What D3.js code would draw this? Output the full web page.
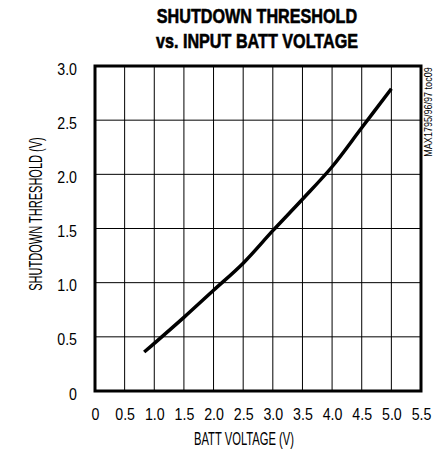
<!DOCTYPE html>
<html>
<head>
<meta charset="utf-8">
<script src="https://cdn.jsdelivr.net/npm/d3@7"></script>
<style>
  html, body { margin: 0; padding: 0; background: #fff; }
  svg { display: block; }
  text { font-family: "Liberation Sans", Arial, sans-serif; fill: #000; }
</style>
</head>
<body>
<svg id="chart" width="444" height="452"></svg>
<script>
const titleLines = ["SHUTDOWN THRESHOLD", "vs. INPUT BATT VOLTAGE"];
const xLabel = "BATT VOLTAGE (V)";
const yLabel = "SHUTDOWN THRESHOLD (V)";
const sideNote = "MAX1795/96/97 toc09";
const xTicks = [0, 0.5, 1.0, 1.5, 2.0, 2.5, 3.0, 3.5, 4.0, 4.5, 5.0, 5.5];
const xTickLabels = ["0", "0.5", "1.0", "1.5", "2.0", "2.5", "3.0", "3.5", "4.0", "4.5", "5.0", "5.5"];
const yTicks = [0, 0.5, 1.0, 1.5, 2.0, 2.5, 3.0];
const yTickLabels = ["0", "0.5", "1.0", "1.5", "2.0", "2.5", "3.0"];
const battVoltage = [0.83, 1.0, 1.5, 2.0, 2.5, 3.0, 3.5, 4.0, 4.5, 5.0];
const threshold   = [0.36, 0.44, 0.68, 0.93, 1.18, 1.48, 1.77, 2.07, 2.43, 2.79];

const svg = d3.select("#chart");
const m = { left: 95, top: 66, right: 421, bottom: 391 };
const x = d3.scaleLinear().domain([0, 5.5]).range([m.left, m.right]);
const y = d3.scaleLinear().domain([0, 3.0]).range([m.bottom, m.top]);

// condense text horizontally (reference uses a condensed face)
function condense(sel, ratio) {
  sel.each(function () {
    const w = this.getComputedTextLength();
    d3.select(this).attr("textLength", w * ratio).attr("lengthAdjust", "spacingAndGlyphs");
  });
}

// Title
svg.append("g").selectAll("text").data(titleLines).join("text")
  .attr("x", 257).attr("y", (d, i) => 23 + i * 25)
  .attr("text-anchor", "middle")
  .attr("font-weight", "bold")
  .attr("font-size", 21)
  .attr("stroke", "#000").attr("stroke-width", 0.6)
  .text(d => d)
  .call(condense, 0.77);

// Grid
const grid = svg.append("g").attr("stroke", "#000").attr("stroke-width", 1);
grid.selectAll("line.v").data(xTicks.slice(1, -1)).join("line")
  .attr("x1", d => x(d)).attr("x2", d => x(d))
  .attr("y1", m.top).attr("y2", m.bottom);
grid.selectAll("line.h").data(yTicks.slice(1, -1)).join("line")
  .attr("x1", m.left).attr("x2", m.right)
  .attr("y1", d => y(d)).attr("y2", d => y(d));

// Axes (labels only)
const xAxis = d3.axisBottom(x).tickValues(xTicks).tickFormat((d, i) => xTickLabels[i]).tickSize(0).tickPadding(0);
const gx = svg.append("g").attr("transform", `translate(0,${m.bottom})`).call(xAxis);
gx.select(".domain").remove();
gx.selectAll("text").attr("font-size", 16.5).attr("font-family", null).attr("dy", null).attr("y", 29)
  .call(condense, 0.86);

const yAxis = d3.axisLeft(y).tickValues(yTicks).tickFormat((d, i) => yTickLabels[i]).tickSize(0).tickPadding(18);
const gy = svg.append("g").attr("transform", `translate(${m.left},0)`).call(yAxis);
gy.select(".domain").remove();
gy.selectAll("text").attr("font-size", 16.5).attr("font-family", null).attr("dy", null).attr("y", 8)
  .call(condense, 0.86);

// Frame
svg.append("rect")
  .attr("x", m.left).attr("y", m.top)
  .attr("width", m.right - m.left).attr("height", m.bottom - m.top)
  .attr("fill", "none").attr("stroke", "#000").attr("stroke-width", 3);

// Curve
const line = d3.line().x((d, i) => x(battVoltage[i])).y(d => y(d)).curve(d3.curveCatmullRom.alpha(0.5));
svg.append("path").datum(threshold)
  .attr("d", line)
  .attr("fill", "none").attr("stroke", "#000").attr("stroke-width", 3.5)
  .attr("stroke-linecap", "butt");

// Axis titles
svg.append("text").attr("x", 244).attr("y", 445)
  .attr("text-anchor", "middle").attr("font-size", 17.5).text(xLabel)
  .call(condense, 0.64);
svg.append("text").attr("transform", `translate(41.5,214) rotate(-90)`)
  .attr("text-anchor", "middle").attr("font-size", 17.5).text(yLabel)
  .call(condense, 0.63);

// Side note
svg.append("text").attr("transform", `translate(432,112) rotate(-90)`)
  .attr("text-anchor", "middle").attr("font-size", 10.5).attr("fill", "#222").text(sideNote)
  .call(condense, 0.86);
</script>
</body>
</html>
